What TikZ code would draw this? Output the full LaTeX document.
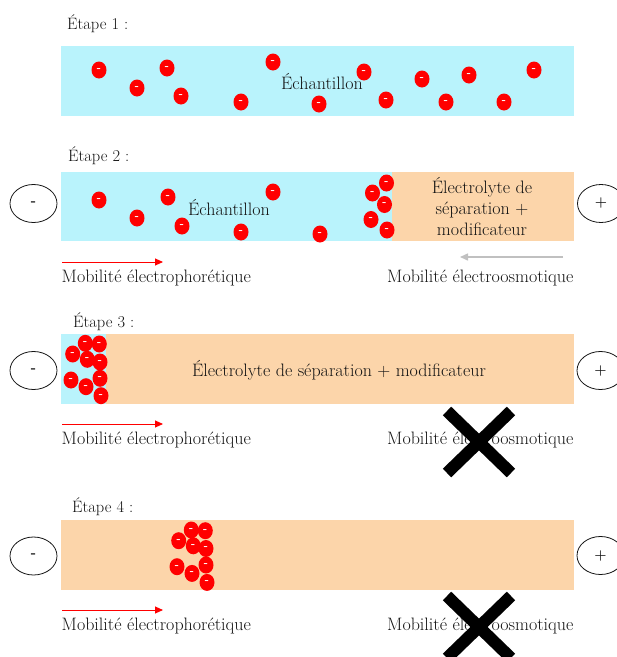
\documentclass[tikz,border=0pt]{standalone}
\usetikzlibrary{shapes.geometric,arrows.meta}
\definecolor{cyanbg}{RGB}{185,243,252}
\definecolor{peach}{RGB}{252,213,170}
\definecolor{arrgray}{RGB}{192,192,192}
\definecolor{txt}{RGB}{20,20,20}
\begin{document}
\begin{tikzpicture}[x=1pt,y=-1pt,
  particle/.style={ellipse, fill=red, minimum width=15pt, minimum height=17pt, inner sep=0pt, text=white, font=\fontsize{11}{11}\selectfont\bfseries},
  electrode/.style={ellipse, draw=txt, line width=0.8pt, minimum width=47pt, minimum height=38pt, inner sep=0pt, font=\fontsize{14}{14}\selectfont\bfseries, text=txt},
  lbl/.style={font=\fontsize{18}{21}\selectfont, inner sep=0pt, text=txt},
  steplbl/.style={font=\fontsize{16.5}{20}\selectfont, inner sep=0pt, text=txt},
  eparrow/.style={red, line width=0.9pt, -{Triangle[length=8pt,width=7pt]}},
  eoarrow/.style={arrgray, line width=1.5pt, -{Triangle[length=8pt,width=7pt]}},
  cross/.style={line width=12pt, black}
]
\useasboundingbox (0,0) rectangle (617,657);
\clip (0,0) rectangle (617,657);

% ---------- Step 1 ----------
\node[steplbl, anchor=base west] (e1) at (67,29) {Étape 1 :};
\fill[cyanbg] (60.5,46) rectangle (574,116);
\node[lbl] (ech1) at (322,82) {Échantillon};
\foreach \x/\y [count=\i] in {99/70,137/88,167/68,181/96,241/102,273/62,319/104,364/72,386/100,422/79,446/102,469/75,504/102,534/70}
  \node[particle] (pa\i) at (\x,\y) {-};

% ---------- Step 2 ----------
\node[steplbl, anchor=base west] (e2) at (68,161) {Étape 2 :};
\fill[cyanbg] (60.5,172) rectangle (392,241);
\fill[peach] (392,172) rectangle (574,241);
\node[lbl] (ech2) at (229,208) {Échantillon};
\node[lbl, align=center] (sep2) at (482,207) {Électrolyte de\\séparation +\\modificateur};
\foreach \x/\y [count=\i] in {99/200,137/218,168/197,182/226,241/232,273/192,320/234,386.5/183,372.5/193,384.5/204.5,371/219.5,387/230}
  \node[particle] (pb\i) at (\x,\y) {-};
\node[electrode] (m2) at (33.5,203.5) {-};
\node[electrode] (p2) at (601,203.5) {+};
\coordinate (a2s) at (62,262);
\coordinate (a2e) at (163,262);
\draw[eparrow] (a2s) -- (a2e);
\coordinate (g2s) at (563,257);
\coordinate (g2e) at (460,257);
\draw[eoarrow] (g2s) -- (g2e);
\node[lbl, anchor=base west] (mep2) at (61.5,282) {Mobilité électrophorétique};
\node[lbl, anchor=base west] (meo2) at (387,282) {Mobilité électroosmotique};

% ---------- Step 3 ----------
\node[steplbl, anchor=base west] (e3) at (73,327) {Étape 3 :};
\fill[cyanbg] (60.5,334) rectangle (106,404);
\fill[peach] (106,334) rectangle (574,404);
\node[lbl] (sep3) at (339,370) {Électrolyte de séparation + modificateur};
\foreach \x/\y [count=\i] in {72.7/354,85.3/343.3,99.3/344,87.3/359.3,100/362,71/380,86/386.7,100/378.3,101/395.7}
  \node[particle] (pc\i) at (\x,\y) {-};
\node[electrode] (m3) at (33.5,370.5) {-};
\node[electrode] (p3) at (600.5,370.5) {+};
\coordinate (a3s) at (62,424);
\coordinate (a3e) at (163,424);
\draw[eparrow] (a3s) -- (a3e);
\node[lbl, anchor=base west] (mep3) at (61.5,444) {Mobilité électrophorétique};
\node[lbl, anchor=base west] (meo3) at (387,444) {Mobilité électroosmotique};
\draw[cross] (447,411) -- (511,473);
\draw[cross] (511,411) -- (447,473);

% ---------- Step 4 ----------
\node[steplbl, anchor=base west] (e4) at (72,512) {Étape 4 :};
\fill[peach] (60.5,520) rectangle (574,590);
\foreach \x/\y [count=\i] in {178.7/540.7,191.3/530,205.3/530.7,193.3/545.8,206/548.5,177/566.7,192/573.4,206/565,207/582.4}
  \node[particle] (pd\i) at (\x,\y) {-};
\node[electrode] (m4) at (33.5,556) {-};
\node[electrode] (p4) at (600.5,555.5) {+};
\coordinate (a4s) at (62,610);
\coordinate (a4e) at (163,610);
\draw[eparrow] (a4s) -- (a4e);
\node[lbl, anchor=base west] (mep4) at (61.5,630) {Mobilité électrophorétique};
\node[lbl, anchor=base west] (meo4) at (387,630) {Mobilité électroosmotique};
\draw[cross] (447,596) -- (511,658);
\draw[cross] (511,596) -- (447,658);
\end{tikzpicture}
\end{document}
